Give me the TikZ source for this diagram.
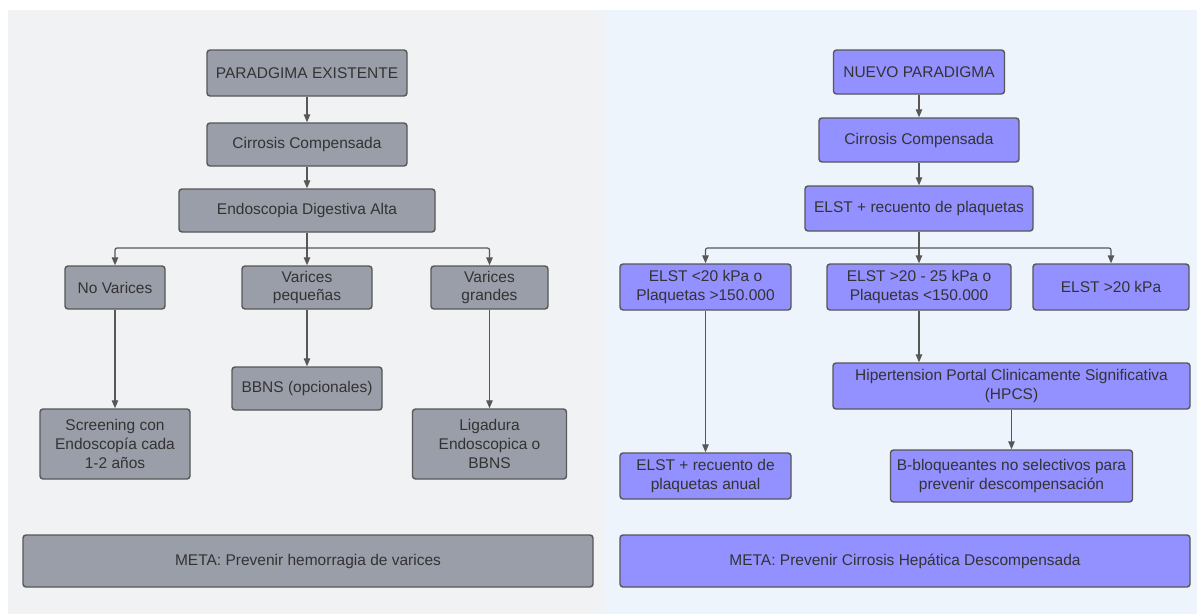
\documentclass[tikz,border=0pt]{standalone}
\usepackage{fontspec}
\setmainfont{Liberation Sans}
\usetikzlibrary{arrows.meta}
\definecolor{bgL}{HTML}{F1F2F4}
\definecolor{bgR}{HTML}{EEF4FC}
\definecolor{greyfill}{HTML}{9A9EA8}
\definecolor{purplefill}{HTML}{9390FF}
\definecolor{edge}{HTML}{575757}
\definecolor{txt}{HTML}{333333}
\tikzset{
  box/.style={draw=edge, line width=1.4pt, rounded corners=3pt, inner sep=0pt,
    align=center, text=txt, font=\fontsize{15.5}{18.8}\selectfont},
  gbox/.style={box, fill=greyfill},
  pbox/.style={box, fill=purplefill},
  sz/.style 2 args={minimum width=#1pt, minimum height=#2pt},
  conn/.style={draw=edge, line width=1.2pt, -{Triangle[length=8pt,width=6.5pt]}},
  plain/.style={draw=edge, line width=1.2pt},
}
\begin{document}
\begin{tikzpicture}[x=1pt,y=-1pt]
\useasboundingbox (0,0) rectangle (1197,614);
\fill[white] (0,0) rectangle (1197,614);
\fill[bgL] (8,10) rectangle (606,614);
\fill[bgR] (606,10) rectangle (1197,614);
% Left
\node[gbox,sz={200}{46}] (pe) at (307,73) {PARADGIMA EXISTENTE};
\node[gbox,sz={200}{43}] (cc1) at (307,144.5) {Cirrosis Compensada};
\node[gbox,sz={256}{43}] (eda) at (307,210.5) {Endoscopia Digestiva Alta};
\node[gbox,sz={100}{43}] (nv) at (115,287.5) {No Varices};
\node[gbox,sz={130}{43}] (vp) at (307,287.5) {Varices\\pequeñas};
\node[gbox,sz={117}{43}] (vg) at (489.5,287.5) {Varices\\grandes};
\node[gbox,sz={150}{70}] (scr) at (115,444) {Screening con\\Endoscopía cada\\1-2 años};
\node[gbox,sz={150}{43}] (bb) at (307,388.5) {BBNS (opcionales)};
\node[gbox,sz={154}{70}] (lig) at (489.5,444) {Ligadura\\Endoscopica o\\BBNS};
\node[gbox,sz={570}{52}] (meta1) at (308,561) {META: Prevenir hemorragia de varices};
\coordinate (jL) at (307,248);
\draw[conn] (pe) -- (cc1);
\draw[conn] (cc1) -- (eda);
\draw[plain] (eda.south) -- (jL);
\draw[conn,rounded corners=2pt] (jL) -| (nv.north);
\draw[conn,rounded corners=2pt] (jL) -| (vg.north);
\draw[conn] (jL) -- (vp.north);
\draw[conn] (nv) -- (scr);
\draw[conn] (vp) -- (bb);
\draw[conn] (vg) -- (lig);
% Right
\node[pbox,sz={171}{44}] (np) at (919,72) {NUEVO PARADIGMA};
\node[pbox,sz={200}{44}] (cc2) at (919,140) {Cirrosis Compensada};
\node[pbox,sz={228}{45}] (elst) at (919,208.5) {ELST + recuento de plaquetas};
\node[pbox,sz={171}{46}] (e1) at (705.5,287) {ELST <20 kPa o\\Plaquetas >150.000};
\node[pbox,sz={184}{46}] (e2) at (919,287) {ELST >20 - 25 kPa o\\Plaquetas <150.000};
\node[pbox,sz={156}{46}] (e3) at (1111,287) {ELST >20 kPa};
\node[pbox,sz={357}{46}] (hpcs) at (1011.5,386) {Hipertension Portal Clinicamente Significativa\\(HPCS)};
\node[pbox,sz={171}{46}] (anual) at (705.5,476) {ELST + recuento de\\plaquetas anual};
\node[pbox,sz={242}{52}] (bnb) at (1011.5,476) {B-bloqueantes no selectivos para\\prevenir descompensación};
\node[pbox,sz={570}{52}] (meta2) at (905,561) {META: Prevenir Cirrosis Hepática Descompensada};
\coordinate (jR) at (919,248);
\draw[conn] (np) -- (cc2);
\draw[conn] (cc2) -- (elst);
\draw[plain] (elst.south) -- (jR);
\draw[conn,rounded corners=2pt] (jR) -| (e1.north);
\draw[conn,rounded corners=2pt] (jR) -| (e3.north);
\draw[conn] (jR) -- (e2.north);
\draw[conn] (e1) -- (anual);
\draw[conn] (e2.south) -- (e2.south |- hpcs.north);
\draw[conn] (hpcs) -- (bnb);
\end{tikzpicture}
\end{document}
